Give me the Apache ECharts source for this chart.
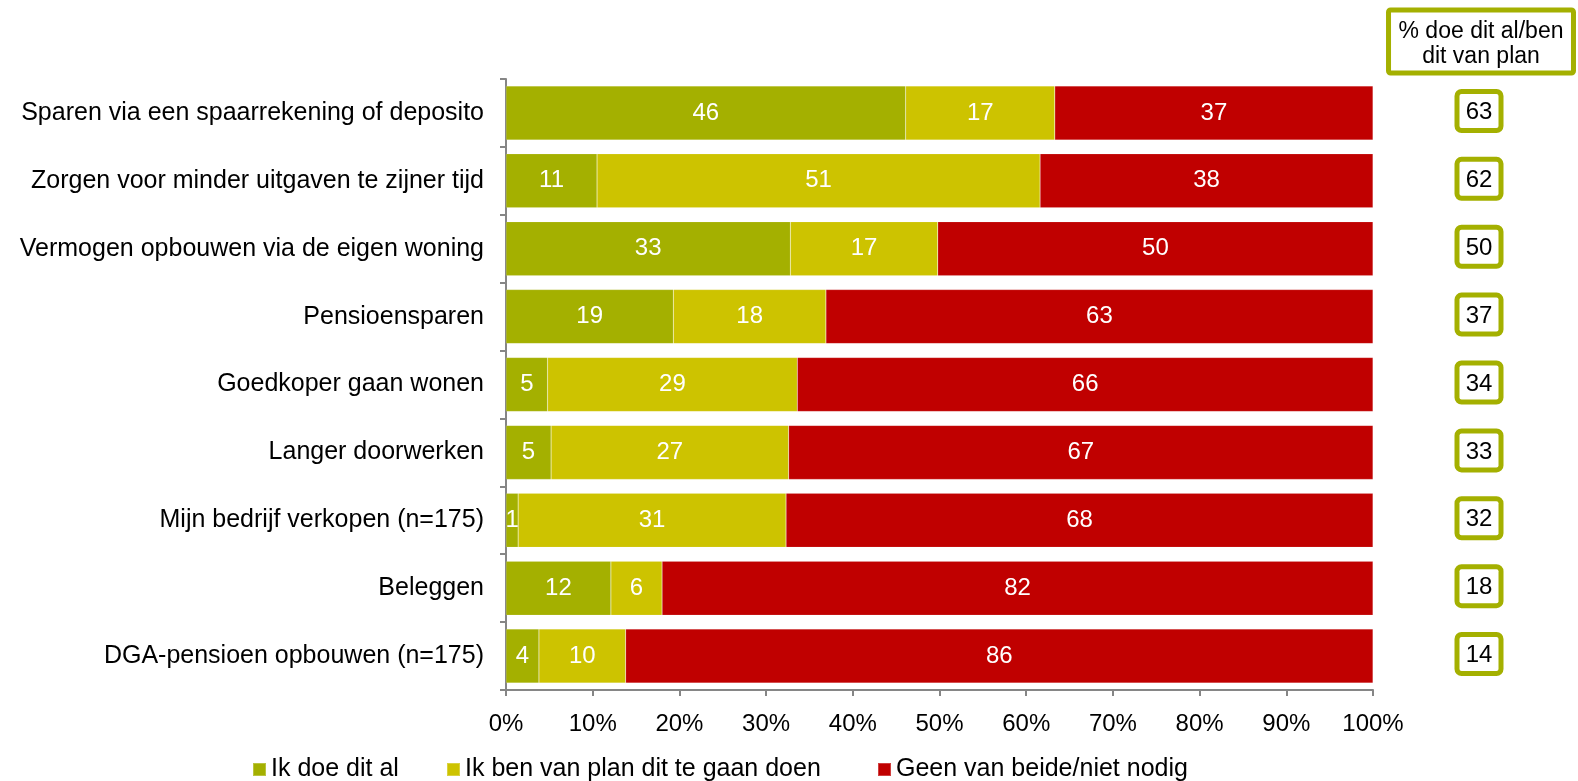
<!DOCTYPE html>
<html>
<head>
<meta charset="utf-8">
<script src="https://cdn.jsdelivr.net/npm/echarts@6/dist/echarts.min.js"></script>
<style>
  html, body { margin: 0; padding: 0; background: #fff; }
  #chart { width: 1578px; height: 781px; }
</style>
</head>
<body>
<div id="chart"></div>
<script>
// categorieën (van boven naar beneden)
const categories = [
  'Sparen via een spaarrekening of deposito',
  'Zorgen voor minder uitgaven te zijner tijd',
  'Vermogen opbouwen via de eigen woning',
  'Pensioensparen',
  'Goedkoper gaan wonen',
  'Langer doorwerken',
  'Mijn bedrijf verkopen (n=175)',
  'Beleggen',
  'DGA-pensioen opbouwen (n=175)'
];
const doeDitAl = [46.1, 10.5, 32.8, 19.3, 4.8, 5.2, 1.4, 12.1, 3.8];
const vanPlan = [17.2, 51.1, 17.0, 17.6, 28.8, 27.4, 30.9, 5.9, 10.0];
const geenVanBeide = [36.7, 38.4, 50.2, 63.1, 66.4, 67.4, 67.7, 82.0, 86.2];
// kolom rechts: % doe dit al/ben dit van plan
const totaal = [63, 62, 50, 37, 34, 33, 32, 18, 14];
const xTicks = [0, 10, 20, 30, 40, 50, 60, 70, 80, 90, 100];

const seriesNames = ['Ik doe dit al', 'Ik ben van plan dit te gaan doen', 'Geen van beide/niet nodig'];
const colors = ['#a4b000', '#cdc300', '#c00000'];
const font = 'Arial, "Liberation Sans", sans-serif';

const chart = echarts.init(document.getElementById('chart'));

const segLabel = {
  show: true,
  position: 'inside',
  color: '#fff',
  fontSize: 24,
  fontFamily: font,
  formatter: p => Math.round(p.value)
};

function barSeries(name, data, i) {
  return {
    name: name,
    type: 'bar',
    stack: 'totaal',
    barWidth: 54,
    data: data,
    itemStyle: { color: colors[i], borderColor: 'rgba(255,255,255,0.25)', borderWidth: 0.5 },
    label: segLabel,
    emphasis: { disabled: true }
  };
}

function legendAt(left, idx) {
  return {
    data: [seriesNames[idx]],
    left: left,
    top: 757,
    padding: 0,
    icon: 'rect',
    itemWidth: 13,
    itemHeight: 13,
    itemGap: 5,
    selectedMode: false,
    textStyle: { fontSize: 25, color: '#000', fontFamily: font }
  };
}

const option = {
  animation: false,
  textStyle: { fontFamily: font },
  grid: { left: 506, right: 205, top: 79, bottom: 91 },
  legend: [legendAt(252, 0), legendAt(446, 1), legendAt(877, 2)],
  xAxis: {
    type: 'value',
    min: 0,
    max: 100,
    interval: 10,
    axisLine: { show: true, lineStyle: { color: '#868686', width: 2 } },
    axisTick: { show: true, length: 6, lineStyle: { color: '#868686', width: 2 } },
    splitLine: { show: false },
    axisLabel: {
      fontSize: 24,
      color: '#000',
      margin: 22,
      formatter: v => (xTicks.includes(v) ? v + '%' : '')
    }
  },
  yAxis: {
    type: 'category',
    inverse: true,
    data: categories,
    axisLine: { show: true, lineStyle: { color: '#868686', width: 2 } },
    axisTick: { show: true, length: 6, lineStyle: { color: '#868686', width: 2 } },
    axisLabel: { fontSize: 25, color: '#000', margin: 22 }
  },
  series: [
    barSeries(seriesNames[0], doeDitAl, 0),
    barSeries(seriesNames[1], vanPlan, 1),
    barSeries(seriesNames[2], geenVanBeide, 2),
    {
      // onzichtbare balk tot 100% die het kader met het totaal rechts draagt
      name: 'totaal',
      type: 'bar',
      barWidth: 54,
      barGap: '-100%',
      silent: true,
      data: totaal.map(() => 100),
      itemStyle: { color: 'rgba(0,0,0,0)' },
      label: {
        show: true,
        position: 'right',
        distance: 106,
        offset: [0, -2],
        formatter: p => '{v|' + totaal[p.dataIndex] + '}',
        align: 'center',
        padding: [3, 3, 0, 3],
        borderColor: '#a4b000',
        borderWidth: 5,
        borderRadius: 2,
        backgroundColor: '#fff',
        rich: {
          v: { fontSize: 24, color: '#000', width: 33, height: 31, lineHeight: 31, align: 'center', verticalAlign: 'middle' }
        }
      }
    }
  ],
  graphic: [
    {
      type: 'text',
      x: 1481,
      y: 10,
      style: {
        text: '% doe dit al/ben\ndit van plan',
        font: '23px ' + font,
        lineHeight: 25,
        align: 'center',
        verticalAlign: 'top',
        fill: '#000',
        borderColor: '#a4b000',
        borderWidth: 5,
        borderRadius: 2,
        padding: [9, 10, 4, 10]
      }
    }
  ]
};

chart.setOption(option);
</script>
</body>
</html>
